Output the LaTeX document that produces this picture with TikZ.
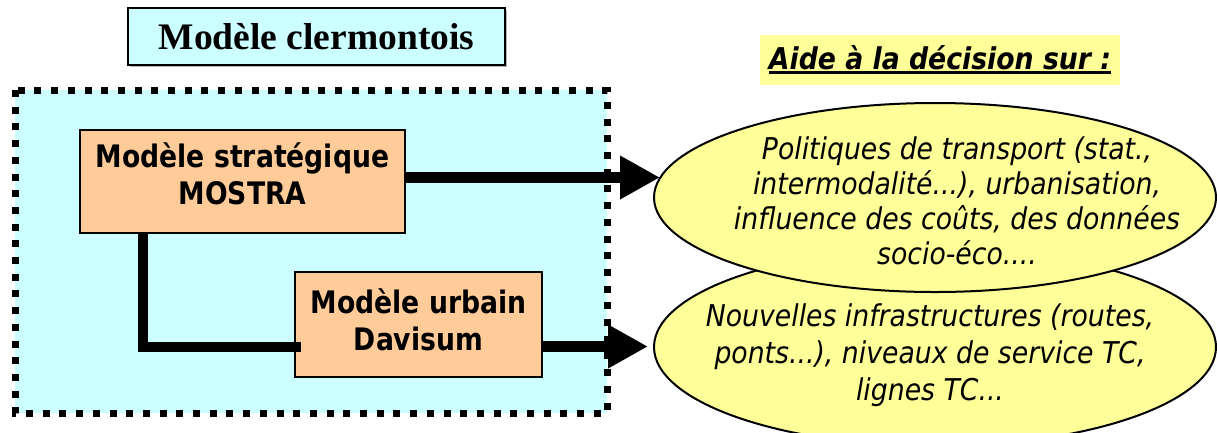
\documentclass[tikz,border=0pt]{standalone}
\usepackage{fontspec}
\usetikzlibrary{arrows.meta,shapes.geometric,calc,shadows}
\newfontfamily\tahoma[FakeStretch=0.86]{DejaVu Sans}
\newfontfamily\tahomaell[FakeStretch=0.89]{DejaVu Sans}
\newfontfamily\timesf{Liberation Serif}
\definecolor{framecyan}{HTML}{CCFFFF}
\definecolor{boxorange}{HTML}{FFCC99}
\definecolor{ellyellow}{HTML}{FFFF99}
\newcommand{\thickul}[1]{\setbox0\hbox{#1}\rlap{\rule[-4.5pt]{\wd0}{2.8pt}}\box0}
\begin{document}
\begin{tikzpicture}[x=1pt,y=-1pt,
  modbox/.style={draw=black, line width=1.5pt, fill=boxorange, inner sep=0pt, align=center,
    text depth=10pt, font=\tahoma\bfseries\fontsize{31}{37}\selectfont},
  conn/.style={line width=10.5pt},
  ell/.style={ellipse, draw=black, line width=2pt, fill=ellyellow, inner sep=0pt},
  elltext/.style={font=\tahomaell\itshape\fontsize{30}{35}\selectfont, align=center, inner sep=0pt},
  bigtip/.style={-{Triangle[length=40pt,width=41pt]}}
]
\useasboundingbox (0,0) rectangle (1217,432);
% frame
\draw[fill=framecyan, line width=7pt, dash pattern=on 7pt off 9.7pt] (15,90) rectangle (607,413);
% title
\node[draw=black, line width=1.2pt, fill=framecyan, minimum width=377pt, minimum height=57pt, inner sep=0pt,
  drop shadow={shadow xshift=2pt, shadow yshift=-2pt, fill=gray, opacity=0.6},
  font=\timesf\bfseries\fontsize{37.5}{40}\selectfont] (title) at (316.5,36.5) {Modèle clermontois};
% aide
\node[fill=ellyellow, minimum width=360pt, minimum height=50pt, inner sep=0pt,
  font=\tahomaell\bfseries\itshape\fontsize{30}{34}\selectfont] (aide) at (940,60) {\thickul{Aide à la décision sur :}};
% boxes
\node[modbox, text depth=16pt, minimum width=325pt, minimum height=103pt] (b1) at (242.5,181.5) {Modèle stratégique\\MOSTRA};
\node[modbox, minimum width=247pt, minimum height=105pt] (b2) at (418.5,324.5) {Modèle urbain\\Davisum};
% ellipses
\node[ell, minimum width=562pt, minimum height=198pt] (e2) at (935,347) {};
\node[ell, minimum width=562pt, minimum height=189pt] (e1) at (935,197.5) {};
\node[elltext] (t1) at (957,201) {Politiques de transport (stat.,\\intermodalité...), urbanisation,\\influence des coûts, des données\\socio-éco....};
\node[elltext, font=\tahomaell\itshape\fontsize{30}{37}\selectfont] (t2) at (930,355) {Nouvelles infrastructures (routes,\\ponts...), niveaux de service TC,\\lignes TC...};
% connectors
\draw[conn, bigtip] ([yshift=4pt]b1.east) -- ([xshift=7pt,yshift=4pt]b1.east -| e1.west);
\draw[conn, bigtip] ([yshift=-22pt]b2.east) -- ([xshift=-5pt,yshift=-22pt]b2.east -| e2.west);
\draw[conn] ([xshift=-99.5pt]b1.south) |- ([yshift=-22.5pt,xshift=7pt]b2.west);
\end{tikzpicture}
\end{document}
